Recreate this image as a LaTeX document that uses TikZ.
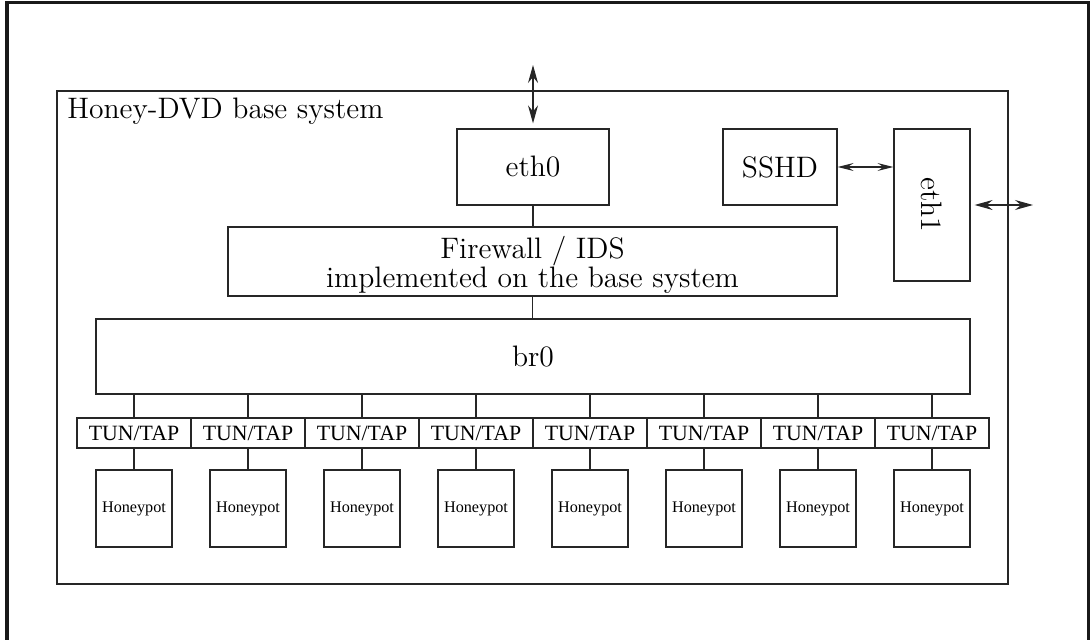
\documentclass[tikz,border=0pt]{standalone}
\usepackage{fontspec}
\newfontfamily\timesf{Liberation Serif}
\usepackage{graphicx}
\usetikzlibrary{arrows.meta}
\begin{document}
\begin{tikzpicture}[x=0.5pt,y=-0.5pt,
  mainfont/.style={font=\fontsize{14.8}{14.6}\selectfont},
  boxx/.style={draw=black!85, line width=0.6pt, inner sep=0pt, align=center, mainfont},
  tunbox/.style={boxx, minimum width=57pt, minimum height=15pt,
    font=\timesf\fontsize{10.9}{12}\selectfont},
  hpbox/.style={boxx, minimum width=38pt, minimum height=38.5pt,
    font=\timesf\fontsize{8.1}{9}\selectfont},
  link/.style={draw=black!85, line width=0.6pt},
  bigarrow/.style={link, {Stealth[length=9pt,width=5pt,inset=3pt]}-{Stealth[length=9pt,width=5pt,inset=3pt]}},
  smallarrow/.style={link, {Stealth[length=8pt,width=4pt,inset=3pt]}-{Stealth[length=8pt,width=4pt,inset=3pt]}},
  framestyle/.style={draw=black!90, line width=1.6pt}
]
\useasboundingbox (0,0) rectangle (1090,640);
\draw[framestyle] (7,650) -- (7,2.5) -- (1088.5,2.5) -- (1088.5,650);

\node[boxx, minimum width=475.5pt, minimum height=246.5pt] (base) at (532.5,337.5) {};
\node[anchor=base west, inner sep=0pt, mainfont] (title) at (67,119) {Honey-DVD base system};

\node[boxx, minimum width=76pt, minimum height=38pt] (eth0) at (533,167) {eth0};
\node[boxx, minimum width=304.5pt, minimum height=34.5pt] (fw) at (532.5,261.5) {};
\node[inner sep=0pt, align=center, mainfont] (fwtext) at (532.5,265) {Firewall / IDS\\implemented on the base system};
\node[boxx, minimum width=437pt, minimum height=37.5pt] (br0) at (533,356.5) {br0};
\node[boxx, minimum width=57pt, minimum height=38pt] (sshd) at (780,167) {SSHD};
\node[boxx, minimum width=38pt, minimum height=76pt] (eth1) at (932,205) {\rotatebox{-90}{eth1}};

\coordinate (netA) at (533,65);
\coordinate (netB) at (1033,205);

\draw[bigarrow] (netA) -- ([yshift=2.5pt]eth0.north);
\draw[bigarrow] ([xshift=2pt]eth1.east) -- (netB);
\draw[smallarrow] (sshd.east) -- (sshd.east -| eth1.west);
\draw[link] (eth0.south) -- (eth0.south |- fw.north);
\draw[link] (fw.south) -- (fw.south |- br0.north);

\foreach \i in {0,...,7} {
  \node[tunbox] (tun\i) at ({134+114*\i},433) {TUN/TAP};
  \node[hpbox] (hp\i) at ({134+114*\i},508.5) {Honeypot};
  \draw[link] (br0.south -| tun\i.north) -- (tun\i.north);
  \draw[link] (tun\i.south) -- (hp\i.north);
}
\end{tikzpicture}
\end{document}
